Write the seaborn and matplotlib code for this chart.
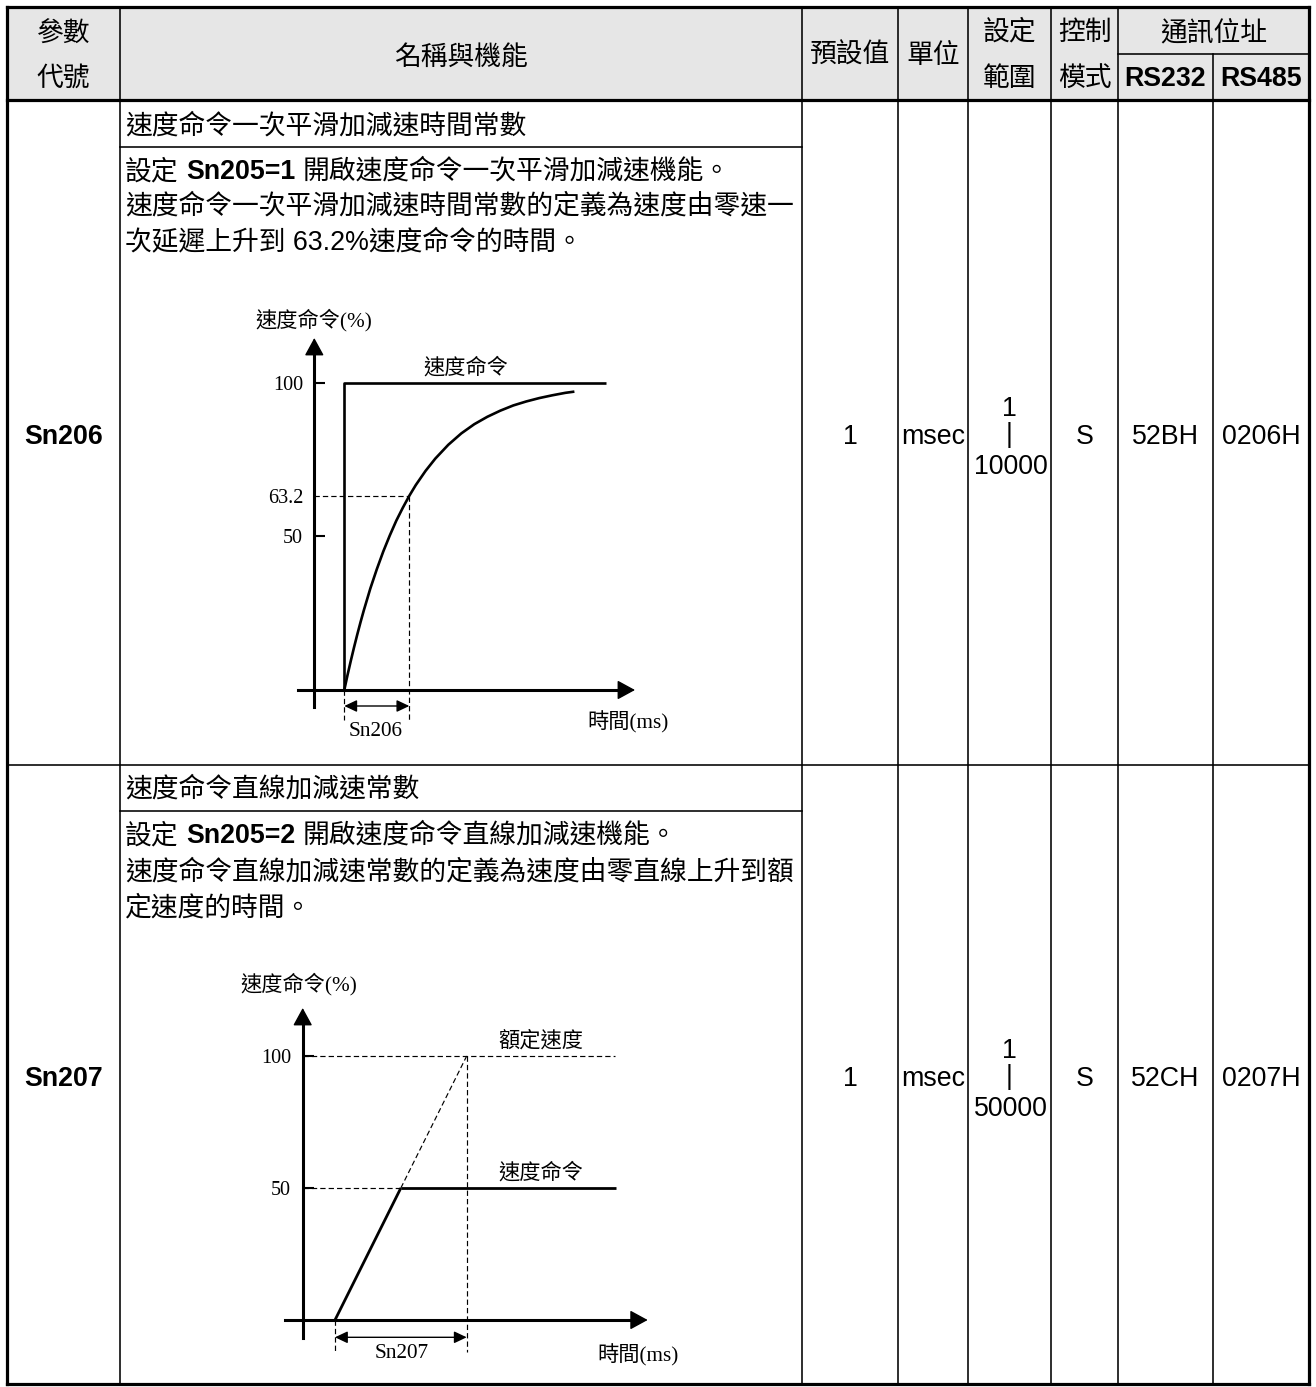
import matplotlib
matplotlib.use("Agg")
import matplotlib.pyplot as plt
from matplotlib.patches import Rectangle
import seaborn as sns

W, H = 1316, 1387

# ---------------- data ----------------
header_codes = ["參數", "代號"]
header_name = "名稱與機能"
header_default = "預設值"
header_unit = "單位"
header_range = ["設定", "範圍"]
header_mode = ["控制", "模式"]
header_addr = "通訊位址"
header_ports = ["RS232", "RS485"]

param_codes = ["Sn206", "Sn207"]
param_titles = ["速度命令一次平滑加減速時間常數", "速度命令直線加減速常數"]
param_setting = ["Sn205=1", "Sn205=2"]
param_enable = ["開啟速度命令一次平滑加減速機能。", "開啟速度命令直線加減速機能。"]
param_desc = [["速度命令一次平滑加減速時間常數的定義為速度由零速一", "次延遲上升到 63.2%速度命令的時間。"],
              ["速度命令直線加減速常數的定義為速度由零直線上升到額", "定速度的時間。"]]
param_default = ["1", "1"]
param_unit = ["msec", "msec"]
param_min = ["1", "1"]
param_max = ["10000", "50000"]
param_mode = ["S", "S"]
param_rs232 = ["52BH", "52CH"]
param_rs485 = ["0206H", "0207H"]

# diagram 1 (time in units of Sn206, speed in %)
d1_t = [0, 0.05, 0.1, 0.15, 0.2, 0.25, 0.3, 0.4, 0.5, 0.6, 0.7, 0.8, 0.9, 1.0, 1.1, 1.25,
        1.4, 1.6, 1.8, 2.0, 2.2, 2.4, 2.6, 2.8, 3.0, 3.2, 3.4, 3.54]
d1_v = [0, 4.9, 9.5, 13.9, 18.1, 22.1, 25.9, 33.0, 39.3, 45.1, 50.3, 55.1, 59.3, 63.2, 66.7, 71.3,
        75.3, 79.8, 83.5, 86.5, 88.9, 90.9, 92.6, 93.9, 95.0, 95.9, 96.7, 97.1]
d1_cmd_t = [0, 0, 4.02]
d1_cmd_v = [0, 100, 100]
d1_ticks = [50, 100]
d1_tau = 1.0
d1_tau_level = 63.2
d1_ylabel = "速度命令(%)"
d1_xlabel = "時間(ms)"
d1_cmd_label = "速度命令"
d1_span_label = "Sn206"

# diagram 2 (time in units of Sn207, speed in %)
d2_ramp_t = [0, 0.5]
d2_ramp_v = [0, 50]
d2_ext_t = [0.5, 1.0]
d2_ext_v = [50, 100]
d2_cmd_t = [0.5, 2.135]
d2_cmd_v = [50, 50]
d2_rated = 100
d2_rated_end = 2.126
d2_ticks = [50, 100]
d2_ylabel = "速度命令(%)"
d2_xlabel = "時間(ms)"
d2_rated_label = "額定速度"
d2_cmd_label = "速度命令"
d2_span_label = "Sn207"

# ---------------- style ----------------
sns.set_theme(style="white")
SANS = ["Liberation Sans", "Noto Sans CJK TC", "DejaVu Sans"]
SERIF = ["Liberation Serif", "Noto Sans CJK TC", "DejaVu Sans"]
plt.rcParams["font.family"] = SANS

FS = 19.3          # table text size (pt)
FS_D = 15.3        # diagram text
FS_N = 14.5        # diagram numbers
THICK = 2.3
THIN = 1.15

fig = plt.figure(figsize=(W / 100, H / 100), dpi=100)
fig.patch.set_facecolor("white")
tab = fig.add_axes([0, 0, 1, 1])
tab.set_xlim(0, W)
tab.set_ylim(H, 0)
tab.axis("off")

X_COLS = [7, 120, 802, 898, 968, 1051, 1118, 1213, 1309]
Y_TOP, Y_SUB, Y_HEAD = 7, 54, 100
Y_ROWS = [100, 765, 1384]
Y_TITLE_LINE = [147, 811]

tab.add_patch(Rectangle((X_COLS[0], Y_TOP), X_COLS[-1] - X_COLS[0], Y_HEAD - Y_TOP,
                        facecolor="#e6e6e6", edgecolor="none", zorder=0))


def hline(y, x0, x1, lw):
    tab.plot([x0, x1], [y, y], color="black", lw=lw, solid_capstyle="projecting", zorder=3)


def vline(x, y0, y1, lw):
    tab.plot([x, x], [y0, y1], color="black", lw=lw, solid_capstyle="projecting", zorder=3)


# inner lines
for x in X_COLS[1:7]:
    vline(x, Y_TOP, Y_ROWS[-1], THIN)
vline(X_COLS[7], Y_SUB, Y_ROWS[-1], THIN)
hline(Y_SUB, X_COLS[6], X_COLS[8], THIN)
hline(Y_ROWS[1], X_COLS[0], X_COLS[8], THIN)
for y in Y_TITLE_LINE:
    hline(y, X_COLS[1], X_COLS[2], THIN)
# thick lines
hline(Y_HEAD, X_COLS[0], X_COLS[8], THICK)
hline(Y_TOP, X_COLS[0], X_COLS[8], THICK)
hline(Y_ROWS[-1], X_COLS[0], X_COLS[8], THICK)
vline(X_COLS[0], Y_TOP, Y_ROWS[-1], THICK)
vline(X_COLS[8], Y_TOP, Y_ROWS[-1], THICK)


def cx(i):
    return (X_COLS[i] + X_COLS[i + 1]) / 2


def txt(x, y, s, bold=False, ha="center", size=FS):
    return tab.text(x, y, s, fontsize=size, fontweight="bold" if bold else "normal",
                    family=SANS, ha=ha, va="center", zorder=4, color="black")


# header
txt(cx(0), 35, header_codes[0])
txt(cx(0), 79, header_codes[1])
txt(cx(1), 58, header_name)
txt(cx(2), 56, header_default)
txt(cx(3), 56, header_unit)
txt(cx(4), 33, header_range[0])
txt(cx(4), 79, header_range[1])
txt(cx(5), 33, header_mode[0])
txt(cx(5), 79, header_mode[1])
txt((X_COLS[6] + X_COLS[8]) / 2, 33, header_addr)
txt(cx(6), 79, header_ports[0], bold=True)
txt(cx(7), 79, header_ports[1], bold=True)

renderer = fig.canvas.get_renderer()
SPACE = FS * 100 / 72 * 0.278


def rich(x, y, parts):
    for s, bold in parts:
        if s.strip() == "":
            x += SPACE * len(s)
            continue
        t = txt(x, y, s, bold=bold, ha="left")
        x += t.get_window_extent(renderer=renderer).width


TEXT_X = 125
row_title_y = [127, 790]
row_line_y = [[172, 206, 242], [836, 872, 908]]
for i in range(2):
    top, bot = Y_ROWS[i], Y_ROWS[i + 1]
    yc = (top + bot) / 2 + 4
    txt(cx(0), yc, param_codes[i], bold=True)
    txt(TEXT_X, row_title_y[i], param_titles[i], ha="left")
    rich(TEXT_X, row_line_y[i][0], [("設定", False), (" ", False), (param_setting[i], True),
                                     (" ", False), (param_enable[i], False)])
    txt(TEXT_X, row_line_y[i][1], param_desc[i][0], ha="left")
    txt(TEXT_X, row_line_y[i][2], param_desc[i][1], ha="left")
    txt(cx(2), yc, param_default[i])
    txt(cx(3), yc, param_unit[i])
    txt(cx(4), yc - 28, param_min[i])
    txt(cx(4), yc - 1, "|")
    txt(cx(4) + 1, yc + 30, param_max[i])
    txt(cx(5), yc, param_mode[i])
    txt(cx(6), yc, param_rs232[i])
    txt(cx(7), yc, param_rs485[i])


# ---------------- diagrams ----------------
def diag_axes(box, origin, scale):
    x0, x1, y0, y1 = box
    ax = fig.add_axes([x0 / W, 1 - y1 / H, (x1 - x0) / W, (y1 - y0) / H])
    ax.patch.set_alpha(0)
    ox, oy = origin
    sx, sy = scale
    lim = ((x0 - ox) / sx, (x1 - ox) / sx, (oy - y1) / sy, (oy - y0) / sy)

    def P(px=None, py=None):
        rx = None if px is None else (px - ox) / sx
        ry = None if py is None else (oy - py) / sy
        return rx, ry
    return ax, lim, P


def sline(ax, xs, ys, lw, dashed=False):
    sns.lineplot(x=xs, y=ys, ax=ax, color="black", linewidth=lw, estimator=None,
                 sort=False, legend=False)
    ln = ax.lines[-1]
    if dashed:
        ln.set_dashes((4.5, 2.6))
    ln.set_solid_capstyle("butt")
    return ln


def axes_frame(ax, P, yaxis_px, ybot_px, ytip_px, xleft_px, xtip_px, ticks, pad):
    yx, _ = P(yaxis_px)
    _, yb = P(None, ybot_px)
    _, yt = P(None, ytip_px)
    xl, _ = P(xleft_px)
    xt, _ = P(xtip_px)
    for s in ["top", "right"]:
        ax.spines[s].set_visible(False)
    ax.spines["left"].set_position(("data", yx))
    ax.spines["bottom"].set_position(("data", 0))
    ax.spines["left"].set_bounds(yb, yt - (yt - yb) * 0.03)
    ax.spines["bottom"].set_bounds(xl, xt - (xt - xl) * 0.03)
    for s in ["left", "bottom"]:
        ax.spines[s].set_color("black")
        ax.spines[s].set_linewidth(2.2)
    ax.set_xticks([])
    ax.set_yticks(ticks)
    ax.set_yticklabels([str(v) for v in ticks])
    ax.tick_params(axis="y", which="major", direction="in", length=8, width=1.5,
                   labelsize=FS_N, pad=pad, left=True, colors="black")
    head = dict(arrowstyle="-|>,head_length=0.55,head_width=0.3", mutation_scale=20,
                color="black", lw=1.0, shrinkA=0, shrinkB=0)
    ax.annotate("", xy=(yx, yt), xytext=(yx, yt - (yt - yb) * 0.06), arrowprops=head)
    ax.annotate("", xy=(xt, 0), xytext=(xt - (xt - xl) * 0.06, 0), arrowprops=head)
    return yx


def span_arrow(ax, x0, x1, y):
    ax.annotate("", xy=(x1, y), xytext=(x0, y),
                arrowprops=dict(arrowstyle="<|-|>,head_length=0.38,head_width=0.18",
                                mutation_scale=20, color="black", lw=1.0, shrinkA=0, shrinkB=0))


def dtext(ax, x, y, s, ha="left", size=FS_D):
    ax.text(x, y, s, fontsize=size, family=SERIF, ha=ha, va="center", color="black")


# diagram 1
ax1, lim1, P1 = diag_axes((225, 690, 295, 765), (344.3, 690), (65, 3.073))
yx1 = axes_frame(ax1, P1, 314.3, 707, 338, 298, 635, d1_ticks, 8)
ax1.set_yticks([d1_tau_level], labels=[str(d1_tau_level)], minor=True)
ax1.tick_params(axis="y", which="minor", length=0, labelsize=FS_N, pad=8, left=True,
                colors="black")
for lab in ax1.get_yticklabels(which="both"):
    lab.set_family(SERIF)
    lab.set_color("black")
_, v_low1 = P1(None, 720)
_, v_arr1 = P1(None, 706)
sline(ax1, d1_cmd_t, d1_cmd_v, 1.9)
sline(ax1, d1_t, d1_v, 1.9)
sline(ax1, [yx1, d1_tau], [d1_tau_level, d1_tau_level], 0.85, dashed=True)
sline(ax1, [d1_tau, d1_tau], [d1_tau_level, v_low1], 0.85, dashed=True)
sline(ax1, [0, 0], [0, v_low1], 0.85, dashed=True)
span_arrow(ax1, 0, d1_tau, v_arr1)
dtext(ax1, *P1(255, 320), d1_ylabel)
dtext(ax1, *P1(466, 368), d1_cmd_label, ha="center")
dtext(ax1, *P1(376, 731), d1_span_label, ha="center")
dtext(ax1, *P1(587, 722), d1_xlabel)
ax1.set_xlim(lim1[0], lim1[1])
ax1.set_ylim(lim1[2], lim1[3])

# diagram 2
ax2, lim2, P2 = diag_axes((225, 690, 955, 1383), (335, 1320), (131.7, 2.64))
yx2 = axes_frame(ax2, P2, 302.7, 1338, 1008, 285, 647.7, d2_ticks, 8.5)
for lab in ax2.get_yticklabels(which="both"):
    lab.set_family(SERIF)
    lab.set_color("black")
_, v_low2 = P2(None, 1352)
_, v_arr2 = P2(None, 1337.3)
sline(ax2, d2_ramp_t, d2_ramp_v, 2.0)
sline(ax2, d2_cmd_t, d2_cmd_v, 2.0)
sline(ax2, d2_ext_t, d2_ext_v, 0.85, dashed=True)
sline(ax2, [yx2, d2_ramp_t[-1]], [d2_cmd_v[0], d2_cmd_v[0]], 0.85, dashed=True)
sline(ax2, [yx2, d2_rated_end], [d2_rated, d2_rated], 0.85, dashed=True)
sline(ax2, [d2_ext_t[-1], d2_ext_t[-1]], [d2_rated, v_low2], 0.85, dashed=True)
sline(ax2, [0, 0], [0, v_low2], 0.85, dashed=True)
span_arrow(ax2, 0, d2_ext_t[-1], v_arr2)
dtext(ax2, *P2(240, 984), d2_ylabel)
dtext(ax2, *P2(541, 1041), d2_rated_label, ha="center")
dtext(ax2, *P2(541, 1173), d2_cmd_label, ha="center")
dtext(ax2, *P2(402, 1353), d2_span_label, ha="center")
dtext(ax2, *P2(597, 1355), d2_xlabel)
ax2.set_xlim(lim2[0], lim2[1])
ax2.set_ylim(lim2[2], lim2[3])

fig.savefig("out.png", dpi=100, facecolor="white")
